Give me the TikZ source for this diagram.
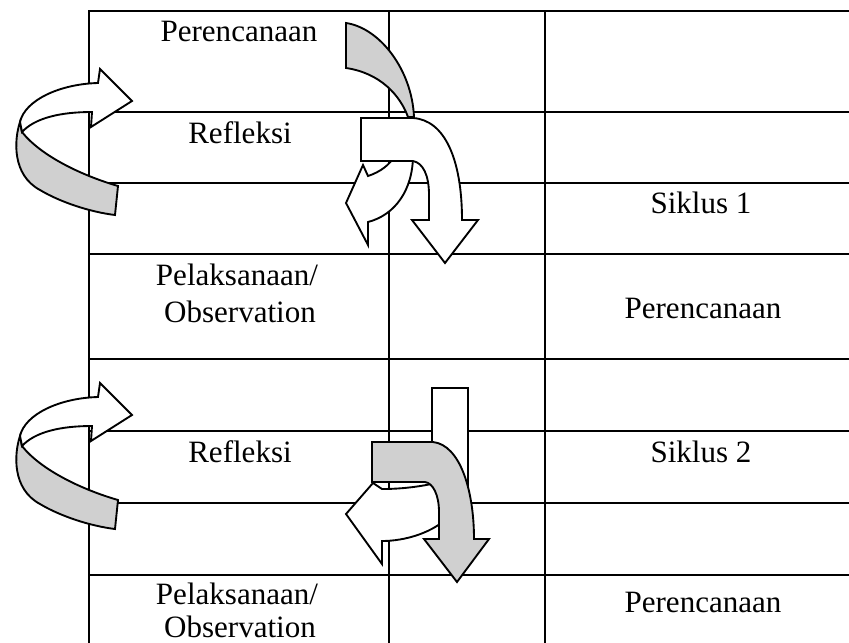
\documentclass[tikz,border=0pt]{standalone}
\usepackage{fontspec}
\setmainfont{Liberation Serif}
\usepackage{tikz}
\usetikzlibrary{positioning}
\definecolor{bandgrey}{RGB}{208,208,208}

\begin{document}
\begin{tikzpicture}[x=0.03cm,y=-0.03cm,font=\fontsize{26.5}{31}\selectfont,
  tabline/.style={line width=2.2pt,line cap=rect},
  wband/.style={fill=white,draw=black,line width=1.6pt},
  gband/.style={fill=bandgrey,draw=black,line width=1.6pt},
  lbl/.style={anchor=base,inner sep=0pt}]

\useasboundingbox (0,0) rectangle (849,642);

\foreach \y in {11,112,183,254,359,431,503,575}
  \draw [tabline] (89,\y) -- (849,\y);
\foreach \x in {89,389,545}
  \draw [tabline] (\x,11) -- (\x,642);

\node [lbl] (plan1) at (239,41) {Perencanaan};
\node [lbl] (refl1) at (240,143) {Refleksi};
\node [lbl] (cycle1) at (701,213) {Siklus 1};
\node [lbl] (act1) at (237,285) {Pelaksanaan/};
\node [lbl] (obs1) at (240,322) {Observation};
\node [lbl] (plan2) at (703,318) {Perencanaan};
\node [lbl] (refl2) at (240,462) {Refleksi};
\node [lbl] (cycle2) at (701,462) {Siklus 2};
\node [lbl] (act2) at (237,604) {Pelaksanaan/};
\node [lbl] (obs2) at (240,637) {Observation};
\node [lbl] (plan3) at (703,612) {Perencanaan};

\foreach \dy in {0,314}{
  \begin{scope}[shift={(0,\dy)}]
    \filldraw [gband] (20,122) .. controls (14,140) and (12,175) .. (40,190) .. controls (60,202) and (90,212) .. (115,215) -- (118,186) .. controls (80,175) and (40,155) .. (22,132) -- cycle;
    \filldraw [wband] (98,83) .. controls (60,84) and (25,100) .. (20,122) -- (22,132) .. controls (35,118) and (60,112) .. (92,112) -- (91,127) -- (132,101) -- (100,69) -- cycle;
  \end{scope}
}

\filldraw [gband] (346,23) .. controls (380,28) and (412,70) .. (414,117) -- (408,117) .. controls (400,95) and (380,73) .. (346,68) -- cycle;
\filldraw [wband] (413,155) .. controls (413,190) and (395,215) .. (368,222) -- (368,245) -- (346,203) -- (363,165) -- (368,176) .. controls (380,172) and (390,165) .. (395,155) -- cycle;
\filldraw [wband] (361,118) -- (413,118) .. controls (445,120) and (462,160) .. (462,220) -- (478,220) -- (445,263) -- (412,220) -- (429,220) -- (429,195) .. controls (429,175) and (423,163) .. (413,161) -- (361,161) -- cycle;

\filldraw [wband] (432,388) rectangle (468,500);
\filldraw [wband] (382,541) .. controls (405,541) and (430,533) .. (445,520) -- (440,482) .. controls (420,487) and (400,489) .. (382,489) -- (373,483) -- (346,514) -- (382,564) -- cycle;
\filldraw [gband] (372,442) -- (433,442) .. controls (460,445) and (474,490) .. (474,539) -- (489,539) -- (457,582) -- (424,539) -- (439,539) -- (439,512) .. controls (439,495) and (433,483) .. (425,482) -- (372,482) -- cycle;

\end{tikzpicture}
\end{document}
